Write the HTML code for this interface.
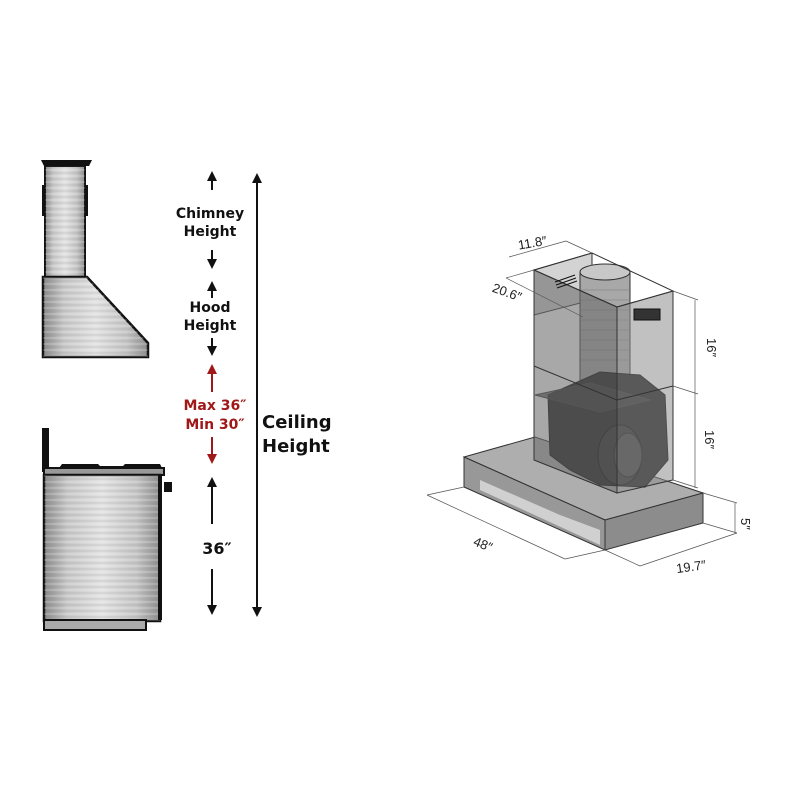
<!DOCTYPE html>
<html><head><meta charset="utf-8"><style>
html,body{margin:0;padding:0;background:#fff;width:800px;height:800px;overflow:hidden}
svg{display:block}
text{font-family:"DejaVu Sans","Liberation Sans",sans-serif;font-weight:bold}
</style></head><body>
<svg width="800" height="800" viewBox="0 0 800 800" xmlns="http://www.w3.org/2000/svg">
<defs>
<linearGradient id="steel" x1="0" y1="0" x2="1" y2="0">
<stop offset="0" stop-color="#8a8a8a"/><stop offset="0.2" stop-color="#c8c8c8"/><stop offset="0.5" stop-color="#e2e2e2"/><stop offset="0.8" stop-color="#c4c4c4"/><stop offset="1" stop-color="#8e8e8e"/>
</linearGradient>
<pattern id="brush" width="8" height="6" patternUnits="userSpaceOnUse">
<rect width="8" height="6" fill="none"/><line x1="0" y1="2" x2="8" y2="2" stroke="#fff" stroke-opacity="0.35" stroke-width="1"/><line x1="0" y1="5" x2="8" y2="5" stroke="#777" stroke-opacity="0.25" stroke-width="0.8"/>
</pattern>
<marker id="ah" viewBox="0 0 10 10" refX="5" refY="5" markerWidth="5" markerHeight="5" orient="auto-start-reverse"><path d="M0,0 L10,5 L0,10 Z" fill="#111"/></marker>
<marker id="ahr" viewBox="0 0 10 10" refX="5" refY="5" markerWidth="5" markerHeight="5" orient="auto-start-reverse"><path d="M0,0 L10,5 L0,10 Z" fill="#a01818"/></marker>
</defs>

<!-- chimney -->
<path d="M41,160 L92,160 L89,166 L44,166 Z" fill="#111"/>
<rect x="45" y="166" width="40" height="111" fill="url(#steel)" stroke="#111" stroke-width="2"/>
<rect x="45" y="166" width="40" height="111" fill="url(#brush)"/>
<line x1="43" y1="185" x2="43" y2="216" stroke="#111" stroke-width="2"/>
<line x1="87" y1="185" x2="87" y2="216" stroke="#111" stroke-width="2"/>
<!-- hood -->
<path d="M43,277 L87,277 L148,343 L148,357 L43,357 Z" fill="url(#steel)" stroke="#111" stroke-width="2.5"/>
<path d="M43,277 L87,277 L148,343 L148,357 L43,357 Z" fill="url(#brush)"/>

<!-- range -->
<rect x="42" y="428" width="7" height="44" fill="#111"/>
<path d="M59,468 L62,464 L98,464 L100,466 L123,466 L125,464 L160,464 L162,468 Z" fill="#111"/>
<rect x="44" y="468" width="120" height="7" fill="#999" stroke="#111" stroke-width="2"/>
<rect x="44" y="475" width="116" height="146" fill="url(#steel)" stroke="#111" stroke-width="2.5"/>
<rect x="44" y="475" width="116" height="146" fill="url(#brush)"/>
<line x1="160" y1="475" x2="160" y2="620" stroke="#111" stroke-width="4"/>
<rect x="164" y="482" width="8" height="10" fill="#111"/>
<rect x="44" y="620" width="102" height="10" fill="#aaa" stroke="#111" stroke-width="2"/>

<!-- arrows -->
<g stroke="#111" stroke-width="2">
<line x1="212" y1="190" x2="212" y2="176" marker-end="url(#ah)"/>
<line x1="212" y1="250" x2="212" y2="264" marker-end="url(#ah)"/>
<line x1="212" y1="298" x2="212" y2="286" marker-end="url(#ah)"/>
<line x1="212" y1="338" x2="212" y2="351" marker-end="url(#ah)"/>
<line x1="212" y1="524" x2="212" y2="482" marker-end="url(#ah)"/>
<line x1="212" y1="569" x2="212" y2="610" marker-end="url(#ah)"/>
<line x1="257" y1="612" x2="257" y2="178" marker-start="url(#ah)" marker-end="url(#ah)"/>
</g>
<g stroke="#a01818" stroke-width="2">
<line x1="212" y1="392" x2="212" y2="369" marker-end="url(#ahr)"/>
<line x1="212" y1="437" x2="212" y2="459" marker-end="url(#ahr)"/>
</g>
<g text-anchor="middle" fill="#111">
<text x="210" y="218" font-size="14">Chimney</text>
<text x="210" y="236" font-size="14">Height</text>
<text x="210" y="312" font-size="14">Hood</text>
<text x="210" y="330" font-size="14">Height</text>
<text x="215" y="410" font-size="14" fill="#a01818">Max 36″</text>
<text x="215" y="429" font-size="14" fill="#a01818">Min 30″</text>
<text x="217" y="554" font-size="16">36″</text>
</g>
<text x="262" y="428" font-size="18" fill="#111">Ceiling</text>
<text x="262" y="452" font-size="18" fill="#111">Height</text>

<!-- 3D hood -->
<g stroke="#333" stroke-width="1">
<path d="M464,457 L535,437 L703,493 L605,520 Z" fill="#a0a0a0" fill-opacity="0.85"/>
<path d="M464,457 L605,520 L605,550 L464,487 Z" fill="#989898"/>
<path d="M480,480 L560,515 L600,530 L600,545 L480,490 Z" fill="#d0d0d0" stroke="none"/>
<path d="M605,520 L703,493 L703,523 L605,550 Z" fill="#8c8c8c"/>
<path d="M534,270 L592,253 L592,300 L534,315 Z" fill="#b5b5b5" fill-opacity="0.6"/>
<rect x="580" y="272" width="50" height="110" fill="#a8a8a8"/>
<ellipse cx="605" cy="272" rx="25" ry="8" fill="#c8c8c8"/>
<g stroke="#777" stroke-width="0.5">
<line x1="580" y1="290" x2="630" y2="290"/><line x1="580" y1="300" x2="630" y2="300"/><line x1="580" y1="310" x2="630" y2="310"/><line x1="580" y1="320" x2="630" y2="320"/><line x1="580" y1="330" x2="630" y2="330"/><line x1="580" y1="340" x2="630" y2="340"/><line x1="580" y1="350" x2="630" y2="350"/><line x1="580" y1="360" x2="630" y2="360"/>
</g>
<path d="M548,395 L600,372 L640,375 L665,395 L668,460 L645,487 L600,485 L570,470 L550,455 Z" fill="#1a1a1a" stroke="#000"/>
<ellipse cx="620" cy="455" rx="22" ry="30" fill="#262626" stroke="#000"/>
<ellipse cx="628" cy="455" rx="14" ry="22" fill="#3a3a3a" stroke="#111"/>
<path d="M535,395 L590,383 L650,400 L600,412 Z" fill="#333" fill-opacity="0.7"/>
<path d="M534,270 L617,307 L617,493 L534,460 Z" fill="#6e6e6e" fill-opacity="0.6"/>
<line x1="534" y1="366" x2="617" y2="400" />
<path d="M617,307 L673,291 L673,480 L617,493 Z" fill="#8e8e8e" fill-opacity="0.55"/>
<line x1="617" y1="400" x2="673" y2="386"/>
<path d="M534,270 L592,253 L673,291 L617,307 Z" fill="none"/>
</g>
<g stroke="#111" stroke-width="1">
<path d="M555,282 L575,275 M556,285 L576,278 M557,288 L577,281" />
<rect x="634" y="309" width="26" height="11" fill="#333"/>
</g>
<g stroke="#555" stroke-width="0.7" fill="none">
<line x1="509" y1="257" x2="566" y2="241"/><line x1="566" y1="241" x2="592" y2="253"/>
<line x1="506" y1="278" x2="534" y2="270"/><line x1="506" y1="278" x2="583" y2="317"/>
<line x1="673" y1="291" x2="698" y2="300"/><line x1="695" y1="300" x2="695" y2="488"/>
<line x1="673" y1="386" x2="698" y2="394"/><line x1="673" y1="480" x2="698" y2="488"/>
<line x1="703" y1="493" x2="737" y2="503"/><line x1="703" y1="523" x2="737" y2="533"/><line x1="735" y1="503" x2="735" y2="533"/>
<line x1="427" y1="495" x2="565" y2="559"/><line x1="464" y1="487" x2="427" y2="495"/><line x1="605" y1="550" x2="565" y2="559"/>
<line x1="605" y1="550" x2="640" y2="566"/><line x1="640" y1="566" x2="737" y2="533"/>
</g>
<g fill="#222" font-size="13">
<text x="518" y="248" style="font-weight:normal;font-family:'Liberation Sans',sans-serif" transform="rotate(-10 528 244)">11.8″</text>
<text x="492" y="296" style="font-weight:normal;font-family:'Liberation Sans',sans-serif" transform="rotate(20 505 292)">20.6″</text>
<text x="700" y="345" style="font-weight:normal;font-family:'Liberation Sans',sans-serif" transform="rotate(90 707 345)">16″</text>
<text x="698" y="437" style="font-weight:normal;font-family:'Liberation Sans',sans-serif" transform="rotate(90 705 437)">16″</text>
<text x="740" y="527" style="font-weight:normal;font-family:'Liberation Sans',sans-serif" transform="rotate(90 745 523)">5″</text>
<text x="473" y="550" style="font-weight:normal;font-family:'Liberation Sans',sans-serif" transform="rotate(22 486 546)">48″</text>
<text x="676" y="571" style="font-weight:normal;font-family:'Liberation Sans',sans-serif" transform="rotate(-8 692 566)">19.7″</text>
</g>
</svg>
</body></html>
